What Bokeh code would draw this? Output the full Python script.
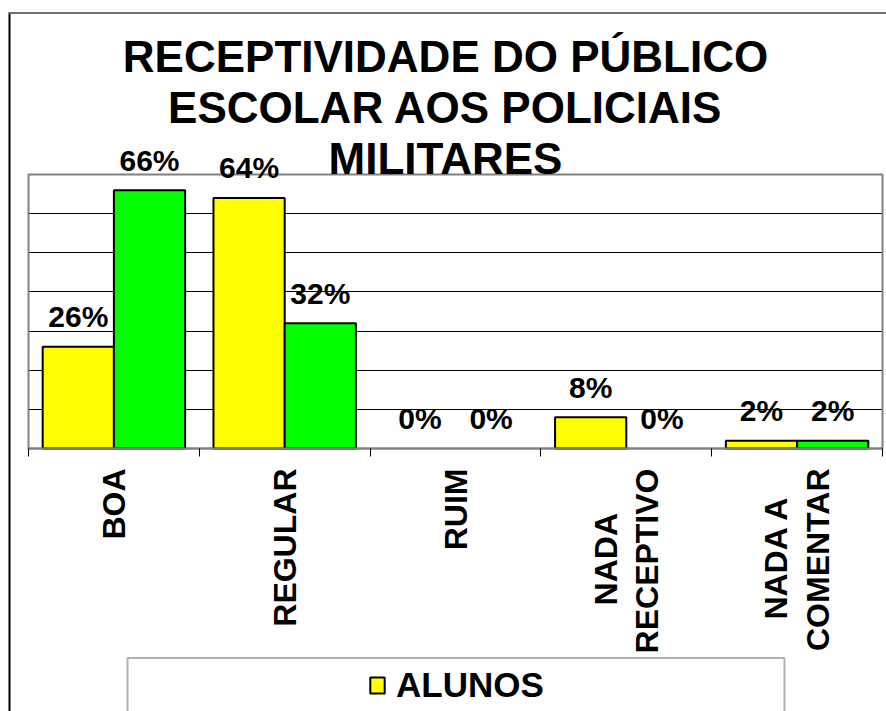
import math
import numpy as np
from bokeh.plotting import figure
from bokeh.models import (Range1d, FixedTicker, Label, Legend, LegendItem,
                          BoxAnnotation, Grid)
from bokeh.core.properties import value
from bokeh.embed import file_html
from bokeh.resources import INLINE

# ---- data ----
categories = ["BOA", "REGULAR", "RUIM", "NADA\nRECEPTIVO", "NADA A\nCOMENTAR"]
alunos = [26, 64, 0, 8, 2]
outros = [66, 32, 0, 0, 2]
series_names = ["ALUNOS", "PROFESSORES"]
title_lines = ["RECEPTIVIDADE DO PÚBLICO", "ESCOLAR AOS POLICIAIS", "MILITARES"]
grid_values = [10, 20, 30, 40, 50, 60]
y_max = 70

FONT = "Liberation Sans"
YELLOW = "#FFFF00"
GREEN = "#00FF00"
NB = "\u00a0"

# ---- layout geometry (pixels) ----
W, H = 886, 711
PL, PR, PT, PB = 28, 882, 174, 448          # plot-area edges on the page
n = len(categories)
kx = (PR - PL) / n
ky = (PB - PT) / y_max
def dx(sx): return (sx - PL) / kx
def dy(sy): return (PB - sy) / ky

p = figure(width=W, height=H, output_backend="svg", toolbar_location=None,
           x_range=Range1d(dx(0), dx(W)), y_range=Range1d(dy(H), dy(0)),
           min_border=0)
p.background_fill_color = "white"
p.border_fill_color = "white"
p.outline_line_color = None

# y axis hidden, grid lines every 10%
p.yaxis.visible = False
p.yaxis.ticker = FixedTicker(ticks=grid_values)
p.ygrid.ticker = FixedTicker(ticks=grid_values)
p.ygrid.grid_line_color = "black"
p.ygrid.grid_line_width = 1
if "cross_bounds" in Grid.properties():
    p.ygrid.cross_bounds = (0, n)
p.xgrid.visible = False

# x axis fixed at 0: labels at category centres, ticks at boundaries
centers = np.arange(n) + 0.5
bounds = list(range(n + 1))
lab_text = ["BOA", "REGULAR", "RUIM", "NADA" + NB * 5 + "\nRECEPTIVO",
            "NADA A" + NB * 3 + "\nCOMENTAR"]
xa_ = p.xaxis[0]
xa_.fixed_location = 0
xa_.bounds = (0, n)
xa_.ticker = FixedTicker(ticks=list(centers), minor_ticks=bounds)
xa_.major_label_overrides = {float(c): lab for c, lab in zip(centers, lab_text)}
xa_.major_label_orientation = math.pi / 2
xa_.major_tick_line_color = None
xa_.major_tick_out = 8
xa_.major_tick_in = 0
xa_.minor_tick_line_color = "black"
xa_.minor_tick_out = 8
xa_.minor_tick_in = 0
xa_.axis_line_color = "#808080"
xa_.axis_line_width = 2
xa_.major_label_standoff = 12
xa_.major_label_text_font = FONT
xa_.major_label_text_font_size = "32px"
xa_.major_label_text_font_style = "bold"
xa_.major_label_text_color = "black"
xa_.major_label_text_line_height = 1.15

# plot-area border
p.quad(left=[0], right=[n], bottom=[0], top=[y_max], fill_alpha=0,
       line_color="#808080", line_width=2)

# bars
bw = 0.417
xa = centers - bw / 2
xb = centers + bw / 2
r1 = p.vbar(x=xa, top=alunos, width=bw, fill_color=YELLOW, line_color="black",
            line_width=2, line_alpha=[1 if v > 0 else 0 for v in alunos])
r2 = p.vbar(x=xb, top=outros, width=bw, fill_color=GREEN, line_color="black",
            line_width=2, line_alpha=[1 if v > 0 else 0 for v in outros])

# value labels
for xs, vals in ((xa, alunos), (xb, outros)):
    p.text(x=xs, y=vals, text=[f"{v}%" for v in vals], text_align="center",
           text_baseline="alphabetic", y_offset=-30, text_font=value(FONT),
           text_font_size="30px", text_font_style="bold", text_color="black")

# outer chart frame (left and top edges)
p.add_layout(BoxAnnotation(left=dx(8), right=dx(10), top=dy(12), bottom=dy(H + 50),
                           fill_color="black", fill_alpha=1, line_color=None))
p.add_layout(BoxAnnotation(left=dx(8), right=dx(W + 50), top=dy(11.5), bottom=dy(13.5),
                           fill_color="#707070", fill_alpha=1, line_color=None))

# title
for line, sy in zip(title_lines, [55.7, 107.3, 158.0]):
    p.add_layout(Label(x=dx(445), y=dy(sy), text=line, text_align="center",
                       text_baseline="alphabetic", text_font=FONT,
                       text_font_size="44px", text_font_style="bold",
                       text_color="black"))

# legend box
p.add_layout(BoxAnnotation(left=dx(127), right=dx(784), top=dy(657.5), bottom=dy(H + 50),
                           fill_color="white", fill_alpha=1,
                           line_color="black", line_width=2))
legend = Legend(items=[LegendItem(label=series_names[0], renderers=[r1])],
                location=(368, H - 685 - 20), border_line_color=None,
                background_fill_alpha=0, padding=0, margin=0,
                glyph_width=18, glyph_height=20, label_standoff=10,
                label_text_font=FONT, label_text_font_size="35px",
                label_text_font_style="bold", label_text_color="black")
p.add_layout(legend)

open("out.html", "w").write(file_html(p, INLINE))
